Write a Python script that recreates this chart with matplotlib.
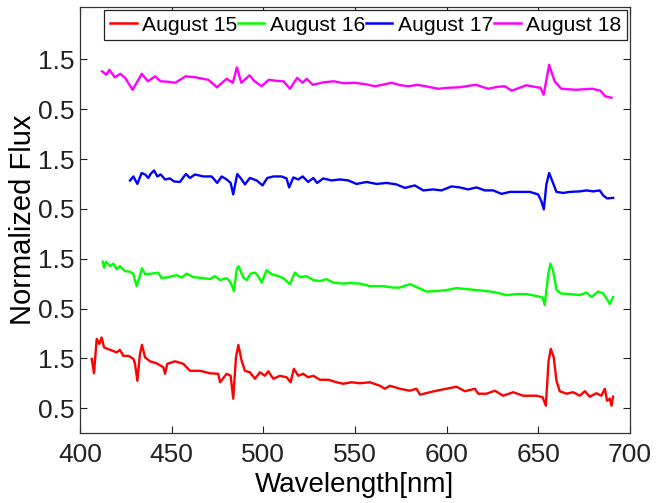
import matplotlib
matplotlib.use("Agg")
import matplotlib.pyplot as plt

plt.rcParams['font.family'] = ['Liberation Sans', 'DejaVu Sans']

# spectra: wavelength [nm], flux (each day offset by +2 in the plot)
wl_15 = [406.4, 407.6, 409.1, 410.5, 411.8, 413.1, 416.4, 420, 421.8, 423.6, 426.4, 429.1, 430, 431.3,
         432.7, 433.8, 435.5, 438.2, 441.8, 445.5, 446.4, 447.6, 451.8, 456.4, 460, 465.5, 470.9, 475.4,
         476.4, 480, 482.2, 483.6, 485.1, 486.4, 488.2, 490, 492.7, 495.5, 498.2, 500.9, 502.7, 505.5,
         509.1, 512.7, 514.9, 516.7, 519.1, 521.8, 524.5, 527.3, 530.9, 535.5, 540, 543.6, 548.2, 552.7,
         558.2, 563.6, 566.4, 569.1, 574.5, 580, 583.6, 585.5, 590.9, 594.5, 600, 605.5, 610, 615.5,
         617.3, 621.8, 626.4, 630.9, 636.4, 641.8, 649.1, 652.4, 654.2, 655.7, 656.9, 658.5, 660, 661.8,
         665.5, 669.1, 672.7, 675.5, 678.2, 681.8, 684.5, 686.4, 687.6, 689.1, 690, 690.9]
flux_15 = [1.49, 1.2, 1.89, 1.79, 1.92, 1.72, 1.67, 1.62, 1.67, 1.55, 1.55, 1.49, 1.39, 1.05,
           1.59, 1.77, 1.52, 1.44, 1.4, 1.32, 1.19, 1.39, 1.44, 1.39, 1.25, 1.25, 1.2, 1.19,
           1.02, 1.19, 1.15, 0.69, 1.52, 1.77, 1.45, 1.25, 1.22, 1.09, 1.22, 1.15, 1.24, 1.09,
           1.15, 1.12, 1.02, 1.29, 1.15, 1.19, 1.12, 1.15, 1.07, 1.07, 1.02, 0.99, 1.02, 1.0,
           1.02, 0.95, 0.89, 0.95, 0.89, 0.85, 0.89, 0.77, 0.82, 0.85, 0.89, 0.93, 0.84, 0.89,
           0.79, 0.79, 0.85, 0.75, 0.82, 0.75, 0.75, 0.72, 0.55, 1.45, 1.69, 1.52, 1.05, 0.84,
           0.79, 0.82, 0.75, 0.84, 0.73, 0.8, 0.75, 0.89, 0.65, 0.69, 0.55, 0.73]

wl_16 = [412.4, 413.1, 414.2, 416.4, 418.2, 420, 421.8, 424.5, 427.3, 429.1, 430.9, 432.4, 433.8, 435.5,
         439.1, 442.7, 444.5, 448.2, 452.7, 455.5, 458.2, 461.8, 467.3, 470.9, 473.6, 476.4, 480, 482.2,
         484, 485.5, 486.5, 489.1, 490.9, 493.1, 495.5, 497.3, 499.1, 501.8, 504.5, 508.2, 510.9, 514.5,
         517.3, 520, 523.6, 527.3, 530.9, 534.5, 538.2, 543.6, 547.3, 552.7, 558.2, 565.5, 570.9, 574.5,
         580, 583.6, 589.1, 594.5, 600, 605.5, 610.9, 616.4, 621.8, 627.3, 632.7, 638.2, 643.6, 649.1,
         652.4, 653.6, 655.5, 656.7, 658.2, 660, 662.7, 667.3, 672.7, 676.4, 679.1, 682.7, 685.5, 688.2,
         689.1, 690.9]
flux_16 = [3.44, 3.32, 3.44, 3.35, 3.4, 3.29, 3.35, 3.25, 3.24, 3.19, 2.95, 3.12, 3.31, 3.19,
           3.2, 3.22, 3.11, 3.13, 3.17, 3.12, 3.2, 3.13, 3.11, 3.09, 3.15, 3.07, 3.11, 3.02,
           2.85, 3.29, 3.35, 3.12, 3.07, 3.2, 3.22, 3.15, 3.02, 3.27, 3.19, 3.15, 3.11, 2.99,
           3.22, 3.13, 3.15, 3.07, 3.05, 3.09, 3.02, 3.0, 3.01, 3.0, 2.95, 2.95, 2.92, 2.92,
           2.99, 2.93, 2.84, 2.85, 2.87, 2.91, 2.89, 2.87, 2.85, 2.82, 2.77, 2.79, 2.79, 2.75,
           2.72, 2.57, 3.19, 3.4, 3.25, 2.87, 2.8, 2.79, 2.77, 2.82, 2.73, 2.84, 2.8, 2.65,
           2.59, 2.73]

wl_17 = [427.3, 429.1, 431.3, 433.6, 435.5, 437.3, 438.5, 440.4, 442.2, 444, 446.4, 449.1, 451.3, 454.5,
         457.8, 460, 462.7, 467.3, 471.8, 474.9, 477.3, 480, 482.2, 483.6, 485.8, 488.2, 490, 492.7,
         496.4, 499.6, 502.2, 505.5, 510, 512.7, 514.1, 516.4, 519.1, 521.5, 524.5, 527.3, 529.4, 532.7,
         537.3, 541.8, 546.4, 550.9, 556.4, 561.8, 567.3, 572.7, 577.3, 582.7, 587.3, 592.7, 597.3, 602.7,
         607.3, 611.8, 616.4, 620.9, 625.5, 630, 634.5, 640, 645.5, 650, 651.8, 653.1, 654.5, 656, 657.8,
         660, 663.6, 667.3, 672.7, 676.4, 680, 683.6, 685.5, 687.6, 690.9]
flux_17 = [5.07, 5.15, 5.0, 5.22, 5.19, 5.12, 5.2, 5.27, 5.15, 5.19, 5.09, 5.11, 5.05, 5.04,
           5.2, 5.12, 5.19, 5.15, 5.15, 5.02, 5.15, 5.09, 5.02, 4.79, 5.2, 5.09, 4.99, 5.12,
           5.07, 4.97, 5.12, 5.15, 5.15, 5.11, 4.93, 5.13, 5.09, 5.15, 5.04, 5.12, 5.02, 5.11,
           5.07, 5.09, 5.07, 5.0, 5.04, 5.0, 5.02, 4.99, 4.92, 4.97, 4.87, 4.89, 4.87, 4.95,
           4.93, 4.89, 4.93, 4.87, 4.87, 4.8, 4.84, 4.84, 4.84, 4.79, 4.65, 4.49, 4.99, 5.22, 5.05,
           4.84, 4.82, 4.84, 4.85, 4.87, 4.85, 4.87, 4.77, 4.71, 4.72]

wl_18 = [412, 414.4, 416, 419, 422, 424.6, 428.7, 433.7, 437, 441, 444, 448, 452, 457.6, 463, 470, 474.7,
         480, 483.4, 485.6, 488, 492.5, 495, 499, 503, 507, 511, 514.6, 518.5, 521.4, 523.7, 527, 533,
         538.5, 544, 550, 556, 561, 570, 575, 579.5, 584, 590, 595.5, 601, 607, 616, 622.8, 628, 632,
         635.5, 643.5, 648, 651.3, 653, 656, 659, 662.6, 670.6, 679.7, 684, 686.6, 690]
flux_18 = [7.26, 7.19, 7.29, 7.14, 7.21, 7.13, 6.89, 7.21, 7.06, 7.16, 7.06, 7.05, 7.03, 7.16, 7.14, 7.09, 6.94,
           7.11, 7.03, 7.34, 7.03, 7.18, 7.07, 6.96, 7.09, 7.07, 7.06, 6.91, 7.13, 7.03, 7.11, 6.99, 7.04,
           7.06, 7.02, 7.03, 7.0, 6.96, 7.03, 6.98, 6.96, 6.99, 6.95, 6.91, 6.93, 6.94, 6.99, 6.91, 6.95, 6.96,
           6.87, 6.98, 6.95, 6.93, 6.79, 7.39, 7.06, 6.91, 6.89, 6.91, 6.87, 6.76, 6.73]

labels = ['August 15', 'August 16', 'August 17', 'August 18']
colors = ['#ff0000', '#00ff00', '#0000ff', '#ff00ff']

ytick_pos = [0.5, 1.5, 2.5, 3.5, 4.5, 5.5, 6.5, 7.5]
ytick_labels = ['0.5', '1.5'] * 4
xtick_pos = [400, 450, 500, 550, 600, 650, 700]

fig = plt.figure(figsize=(6.56, 5.03), dpi=100)
ax = fig.add_axes([0.122, 0.139, 0.838, 0.847])

series = [(wl_15, flux_15), (wl_16, flux_16), (wl_17, flux_17), (wl_18, flux_18)]
for (x, y), lab, c in zip(series, labels, colors):
    ax.plot(x, y, color=c, lw=1.7, label=lab)

ax.set_xlim(400, 700)
ax.set_ylim(0, 8.55)
ax.set_xticks(xtick_pos)
ax.set_yticks(ytick_pos)
ax.set_yticklabels(ytick_labels)
ax.tick_params(direction='in', top=True, right=True, length=5, width=0.8,
               labelsize=19, colors='#222222')
ax.tick_params(axis='x', pad=7)
ax.tick_params(axis='y', pad=4)
for sp in ax.spines.values():
    sp.set_color('#333333')
    sp.set_linewidth(0.9)

ax.set_xlabel('Wavelength[nm]', fontsize=20, labelpad=4)
ax.set_ylabel('Normalized Flux', fontsize=21, labelpad=1)

leg = ax.legend(loc='upper left', bbox_to_anchor=(0.044, 0.994), ncol=4, fontsize=15.2,
                handlelength=1.25, handletextpad=0.25, columnspacing=0.05,
                borderpad=0.28, borderaxespad=0, fancybox=False, framealpha=1)
leg.get_frame().set_edgecolor('#222222')
leg.get_frame().set_linewidth(0.9)
for h in leg.get_lines():
    h.set_linewidth(1.8)

fig.savefig('out.png', dpi=100)
